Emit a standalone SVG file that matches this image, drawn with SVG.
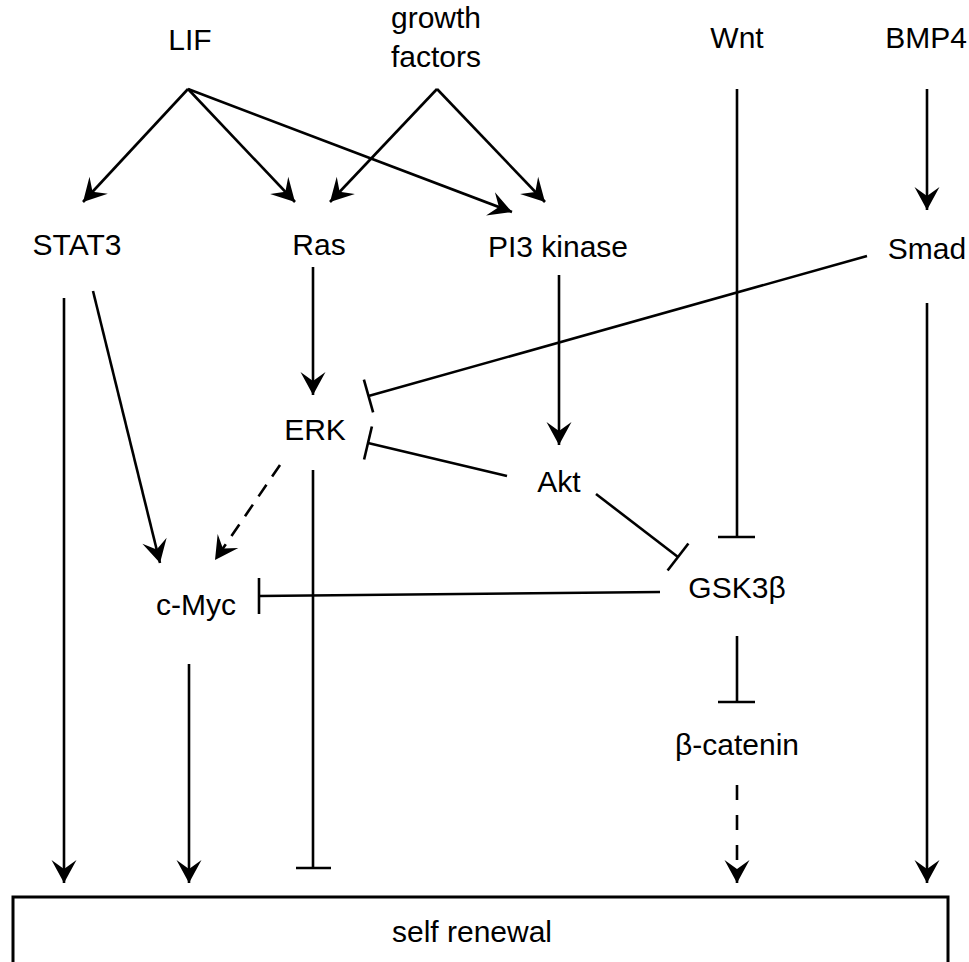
<svg xmlns="http://www.w3.org/2000/svg" width="969" height="962" viewBox="0 0 969 962">
<style>
text{font-family:"Liberation Sans",Arial,sans-serif;font-size:30px;fill:#000;text-anchor:middle}
.c line,.c path{stroke:#000;stroke-width:2.6;fill:none}
.d{stroke-dasharray:14 10}
.a{marker-end:url(#arr)}
</style>
<defs>
<marker id="arr" markerUnits="userSpaceOnUse" markerWidth="26" markerHeight="28" viewBox="-24 -14 26 28" refX="0" refY="0" orient="auto"><path d="M0,0 L-23,-12.5 L-14,0 L-23,12.5 Z" fill="#000" stroke="none"/></marker>
</defs>
<rect width="969" height="962" fill="#fff"/>
<g id="LIF"><text x="190" y="50">LIF</text></g>
<g id="growth-factors"><text x="436" y="28">growth</text><text x="436" y="67">factors</text></g>
<g id="Wnt"><text x="737" y="48">Wnt</text></g>
<g id="BMP4"><text x="926" y="48">BMP4</text></g>
<g id="STAT3"><text x="77" y="255">STAT3</text></g>
<g id="Ras"><text x="319" y="255">Ras</text></g>
<g id="PI3kinase"><text x="558" y="257">PI3 kinase</text></g>
<g id="Smad"><text x="927" y="259">Smad</text></g>
<g id="ERK"><text x="315" y="440">ERK</text></g>
<g id="Akt"><text x="559" y="492">Akt</text></g>
<g id="GSK3b"><text x="737" y="598">GSK3β</text></g>
<g id="cMyc"><text x="196" y="615">c-Myc</text></g>
<g id="bcatenin"><text x="737" y="755">β-catenin</text></g>
<g id="self-renewal"><rect x="13" y="897" width="935" height="90" fill="#fff" stroke="#000" stroke-width="3"/><text x="472" y="942">self renewal</text></g>
<g class="c" id="connectors">
<line class="a" x1="188" y1="89" x2="83" y2="202"/>
<line class="a" x1="188" y1="89" x2="295" y2="202"/>
<line class="a" x1="188" y1="89" x2="512" y2="212"/>
<line class="a" x1="437" y1="89" x2="330" y2="202"/>
<line class="a" x1="437" y1="89" x2="545" y2="202"/>
<line class="a" x1="927" y1="89" x2="927" y2="210"/>
<line x1="737" y1="89" x2="737" y2="537"/><line x1="718" y1="537" x2="755" y2="537"/>
<line x1="867" y1="256" x2="368.5" y2="396"/><line x1="363.9" y1="379.6" x2="373.1" y2="412.4"/>
<line x1="507" y1="476" x2="368" y2="443"/><line x1="371.9" y1="426.5" x2="364.1" y2="459.5"/>
<line x1="596" y1="494" x2="678" y2="557"/><line x1="688.4" y1="543.5" x2="667.6" y2="570.5"/>
<line x1="660" y1="592" x2="259" y2="596"/><line x1="259" y1="578" x2="259" y2="614"/>
<line class="a" x1="313" y1="267" x2="313" y2="395"/>
<line class="a" x1="559" y1="275" x2="559" y2="445"/>
<line class="a" x1="93" y1="291" x2="160" y2="563"/>
<line class="a d" x1="280" y1="465" x2="215" y2="560"/>
<line class="a" x1="64" y1="298" x2="64" y2="883"/>
<line class="a" x1="189" y1="664" x2="189" y2="883"/>
<line x1="313" y1="470" x2="313" y2="868"/><line x1="296" y1="868" x2="331" y2="868"/>
<line x1="737" y1="636" x2="737" y2="702"/><line x1="718" y1="702" x2="755" y2="702"/>
<line class="a" x1="737" y1="785" x2="737" y2="883" style="stroke-dasharray:15 15"/>
<line class="a" x1="927" y1="303" x2="927" y2="883"/>
</g>
</svg>
